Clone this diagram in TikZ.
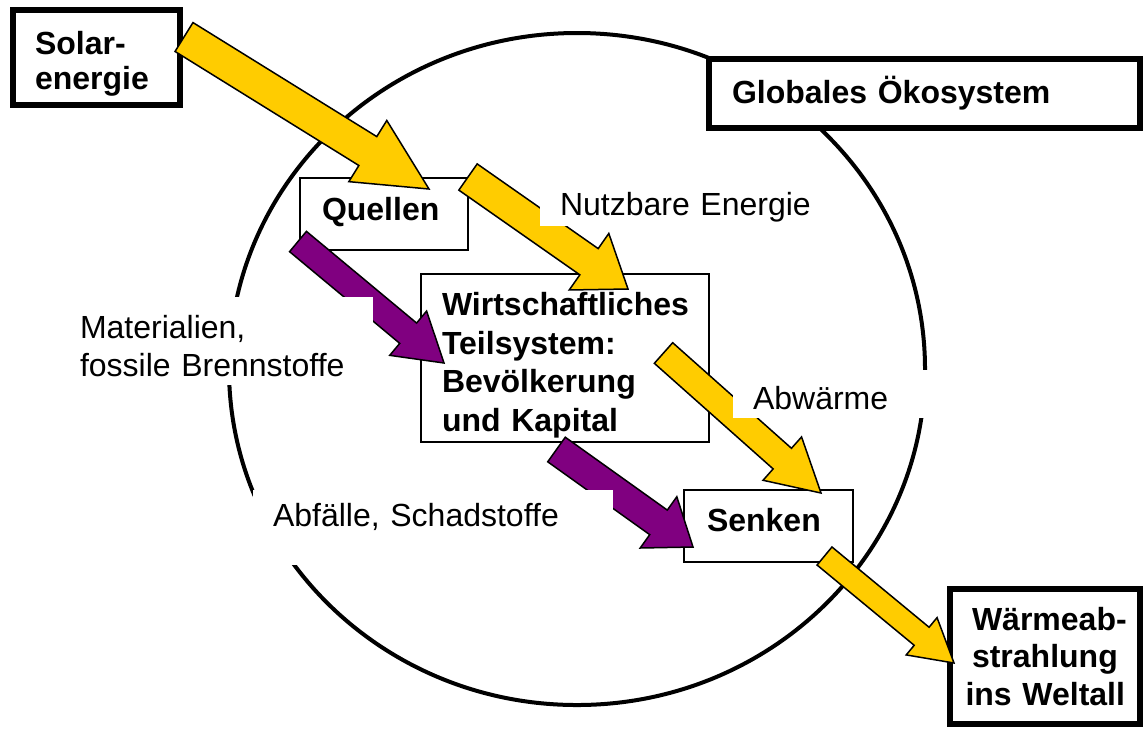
\documentclass[tikz,border=0pt]{standalone}
\usepackage{fontspec}
\setmainfont{Liberation Sans}
\usetikzlibrary{calc}
\hyphenpenalty=10000
\exhyphenpenalty=10000
\definecolor{sunyellow}{HTML}{FFCC00}
\definecolor{matpurple}{HTML}{800080}
% block arrow: tail, tip, fill, half shaft, half head, head length
\newcommand{\flowarrow}[6]{%
    \coordinate (neck) at ($(#2)!#6!(#1)$);
    \draw[flow, fill=#3] ($(#1)!#4!90:(#2)$) -- ($(neck)!#4!90:(#2)$) -- ($(neck)!#5!90:(#2)$) -- (#2)
        -- ($(neck)!#5!-90:(#2)$) -- ($(neck)!#4!-90:(#2)$) -- ($(#1)!#4!-90:(#2)$) -- cycle;
}

\begin{document}
\begin{tikzpicture}[x=0.5pt, y=-0.5pt,
    box/.style={draw, fill=white, line width=0.9pt, align=left, inner xsep=11pt, inner ysep=0pt, font=\fontsize{16pt}{19pt}\selectfont\bfseries},
    bigbox/.style={box, line width=3pt},
    lbl/.style={fill=white, align=left, inner xsep=10pt, inner ysep=0pt, font=\fontsize{16pt}{19pt}\selectfont},
    flow/.style={draw=black, line width=0.75pt}]
    \useasboundingbox (0,0) rectangle (1143,730);
    %Ecosystem
    \draw[line width=2pt] (577,369) ellipse [x radius=174pt, y radius=168pt];
    %Boxes
    \node[bigbox, text width=61.5pt, minimum width=83.5pt, minimum height=47.5pt, font=\fontsize{16pt}{17.5pt}\selectfont\bfseries] (solar) at (96.5,57.5) {\rule{0pt}{17.7pt}Solar-\\energie};
    \node[bigbox, text width=192.5pt, inner xsep=11.5pt, minimum width=215.5pt, minimum height=34.5pt] (oeko) at (924.5,93.5) {Globales Ökosystem};
    \node[box, text width=62pt, minimum width=84pt, minimum height=36pt] (quellen) at (384,214) {Quellen\rule[-5.6pt]{0pt}{5.6pt}};
    \node[box, text width=123pt, inner xsep=10.5pt, minimum width=144pt, minimum height=84pt, font=\fontsize{16pt}{19.35pt}\selectfont\bfseries] (wirtschaft) at (565,358) {\rule{0pt}{18.7pt}Wirtschaftliches\\Teilsystem:\\Bevölkerung\\und Kapital};
    \node[box, text width=61.5pt, inner xsep=11.5pt, minimum width=84.5pt, minimum height=36pt] (senken) at (768.5,526) {Senken\rule[-5.7pt]{0pt}{5.7pt}};
    \node[bigbox, text width=79.5pt, inner xsep=7.75pt, minimum width=95pt, minimum height=67.5pt, font=\fontsize{16pt}{18.75pt}\selectfont\bfseries] (weltall) at (1045,656.5) {\leftskip=3.25pt Wärmeab-\\strahlung\\ins~Weltall};
    %Flows
    \coordinate (solarOut) at (184,37);
    \coordinate (quellenIn) at (429,189);
    \coordinate (quellenOut) at (468,177);
    \coordinate (wirtIn) at (628,289);
    \coordinate (wirtHeat) at (663.5,353);
    \coordinate (senkenIn) at (821,493);
    \coordinate (quellenMat) at (298,241.5);
    \coordinate (wirtMat) at (444,363);
    \coordinate (wirtWaste) at (556.5,449.5);
    \coordinate (senkenWaste) at (693,547);
    \coordinate (senkenOut) at (824.5,556);
    \coordinate (weltallIn) at (954,663);
    \flowarrow{solarOut}{quellenIn}{sunyellow}{8.5pt}{18pt}{36pt}
    \flowarrow{quellenOut}{wirtIn}{sunyellow}{8pt}{17.25pt}{23.8pt}
    \flowarrow{wirtHeat}{senkenIn}{sunyellow}{6.9pt}{14.5pt}{25.9pt}
    \flowarrow{quellenMat}{wirtMat}{matpurple}{6.6pt}{14.4pt}{23.3pt}
    \flowarrow{wirtWaste}{senkenWaste}{matpurple}{7.55pt}{15.75pt}{21.2pt}
    \flowarrow{senkenOut}{weltallIn}{sunyellow}{5.85pt}{12.1pt}{21pt}
    %Labels
    \node[lbl, text width=132.5pt, minimum height=19pt] (nutzbar) at (692.5,207) {Nutzbare Energie};
    \node[lbl, text width=81pt, minimum height=24pt] (abwaerme) at (834,394) {\rule{0pt}{16pt}Abwärme};
    \node[lbl, text width=136.5pt, minimum height=44pt] (material) at (216.5,341) {\rule{0pt}{17pt}Materialien,\\fossile Brennstoffe};
    \node[lbl, text width=160pt, minimum height=37.5pt] (abfall) at (433,527.5) {Abfälle, Schadstoffe\rule[-12.2pt]{0pt}{12.2pt}};
\end{tikzpicture}
\end{document}
